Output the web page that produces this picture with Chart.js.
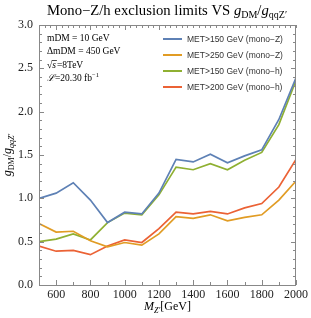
<!DOCTYPE html>
<html>
<head>
<meta charset="utf-8">
<script src="https://cdn.jsdelivr.net/npm/chart.js@4.4.1/dist/chart.umd.min.js"></script>
<style>
  body { margin: 0; background: #fff; }
  canvas { display: block; }
</style>
</head>
<body>
<canvas id="myChart" width="311" height="318"></canvas>
<script>
const masses = [500, 600, 700, 800, 900, 1000, 1100, 1200, 1300, 1400, 1500, 1600, 1700, 1800, 1900, 2000];
const monoZ150 = [1.00, 1.06, 1.18, 0.98, 0.72, 0.84, 0.82, 1.06, 1.45, 1.42, 1.51, 1.41, 1.49, 1.56, 1.91, 2.39];
const monoZ250 = [0.71, 0.61, 0.62, 0.51, 0.44, 0.49, 0.46, 0.59, 0.79, 0.77, 0.81, 0.74, 0.78, 0.81, 0.98, 1.20];
const monoH150 = [0.50, 0.53, 0.59, 0.52, 0.72, 0.83, 0.81, 1.04, 1.36, 1.33, 1.40, 1.33, 1.44, 1.53, 1.85, 2.36];
const monoH200 = [0.45, 0.39, 0.40, 0.35, 0.45, 0.52, 0.49, 0.65, 0.84, 0.82, 0.85, 0.82, 0.89, 0.94, 1.13, 1.45];
const seriesLabels = ['MET>150 GeV (mono\u2212Z)', 'MET>250 GeV (mono\u2212Z)', 'MET>150 GeV (mono\u2212h)', 'MET>200 GeV (mono\u2212h)'];
const seriesColors = ['#5e81b5', '#e19c24', '#8fb032', '#eb6235'];
const xTicks = [600, 800, 1000, 1200, 1400, 1600, 1800, 2000];
const yTicks = [0, 0.5, 1.0, 1.5, 2.0, 2.5, 3.0];
const infoLines = ['mDM = 10 GeV', '\u0394mDM = 450 GeV'];

const serif = '"Liberation Serif", "DejaVu Serif", serif';
const sans = '"Liberation Sans", Arial, sans-serif';

// draws a run of text pieces with different fonts / baseline shifts
function drawRich(ctx, parts, x, y, align) {
  let total = 0;
  parts.forEach(p => { ctx.font = p.f; p.w = ctx.measureText(p.t).width; total += p.w + (p.gap || 0); });
  let cx = align === 'center' ? x - total / 2 : x;
  ctx.textAlign = 'left';
  ctx.textBaseline = 'alphabetic';
  parts.forEach(p => {
    ctx.font = p.f;
    ctx.fillText(p.t, cx, y + (p.dy || 0));
    cx += p.w + (p.gap || 0);
  });
}

const framePlugin = {
  id: 'frame',
  afterDatasetsDraw(chart) {
    const ctx = chart.ctx;
    const a = chart.chartArea;
    const xs = chart.scales.x, ys = chart.scales.y;
    ctx.save();
    ctx.strokeStyle = '#888';
    ctx.lineWidth = 1;
    ctx.strokeRect(a.left + 0.5, a.top + 0.5, a.right - a.left - 1, a.bottom - a.top);
    ctx.beginPath();
    // x ticks every 100, major at 200
    for (let v = 500; v <= 2000; v += 100) {
      const px = Math.round(xs.getPixelForValue(v)) + 0.5;
      const len = v % 200 === 0 ? 5 : 3;
      ctx.moveTo(px, a.bottom); ctx.lineTo(px, a.bottom - len);
    }
    for (let v = 500; v <= 2000; v += 100 / 3) {
      const px = Math.round(xs.getPixelForValue(v)) + 0.5;
      const len = Math.abs(v % 200) < 1 ? 5 : 3;
      ctx.moveTo(px, a.top); ctx.lineTo(px, a.top + len);
    }
    for (let i = 0; i <= 30; i++) {
      const py = Math.round(ys.getPixelForValue(i / 10)) + 0.5;
      const len = i % 5 === 0 ? 5 : 3;
      ctx.moveTo(a.left, py); ctx.lineTo(a.left + len, py);
      ctx.moveTo(a.right, py); ctx.lineTo(a.right - len, py);
    }
    ctx.stroke();

    // legend
    ctx.lineWidth = 2;
    seriesLabels.forEach((lab, i) => {
      const ly = 39 + i * 16;
      ctx.strokeStyle = seriesColors[i];
      ctx.beginPath(); ctx.moveTo(163, ly); ctx.lineTo(182, ly); ctx.stroke();
      ctx.fillStyle = '#333';
      ctx.font = '8.5px ' + sans;
      ctx.textAlign = 'left';
      ctx.textBaseline = 'middle';
      ctx.fillText(lab, 187, ly + 0.5);
    });

    // info text
    ctx.fillStyle = '#000';
    const f9 = '9.5px ' + serif;
    drawRich(ctx, [{ t: infoLines[0], f: f9 }], 47, 41);
    drawRich(ctx, [{ t: infoLines[1], f: f9 }], 47, 54);
    drawRich(ctx, [{ t: '\u221A', f: f9 }, { t: 's', f: 'italic ' + f9, gap: 1 }, { t: '=8TeV', f: f9 }], 47, 68);
    drawRich(ctx, [{ t: '\u2112', f: 'italic ' + f9 }, { t: '=20.30 fb', f: f9 }, { t: '\u22121', f: '6.5px ' + serif, dy: -4 }], 47, 81);
    // overline for sqrt
    ctx.font = f9;
    const rw = ctx.measureText('\u221A').width;
    ctx.font = 'italic ' + f9;
    const sw = ctx.measureText('s').width;
    ctx.lineWidth = 0.7; ctx.strokeStyle = '#000';
    ctx.beginPath(); ctx.moveTo(47 + rw - 0.5, 60.5); ctx.lineTo(47 + rw + sw + 1, 60.5); ctx.stroke();

    // title
    const ft = '14.7px ' + serif, fti = 'italic 14.7px ' + serif, fsub = '10px ' + serif;
    drawRich(ctx, [
      { t: 'Mono\u2212Z/h exclusion limits VS ', f: ft },
      { t: 'g', f: fti }, { t: 'DM', f: fsub, dy: 3 },
      { t: '/', f: ft },
      { t: 'g', f: fti }, { t: 'qqZ\u2032', f: fsub, dy: 3 }
    ], 167, 15, 'center');

    // x title
    const fa = 'italic 12px ' + serif, fan = '12px ' + serif, fas = 'italic 8px ' + serif, fasn = '8px ' + serif;
    drawRich(ctx, [{ t: 'M', f: fa }, { t: 'Z\u2032', f: fas, dy: 3 }, { t: '[GeV]', f: fan }], (a.left + a.right) / 2, 310, 'center');

    // y title
    ctx.translate(11, (a.top + a.bottom) / 2);
    ctx.rotate(-Math.PI / 2);
    drawRich(ctx, [
      { t: 'g', f: fa }, { t: 'DM', f: fasn, dy: 3 },
      { t: '/', f: fan },
      { t: 'g', f: fa }, { t: 'qqZ\u2032', f: fas, dy: 3 }
    ], 0, 0, 'center');
    ctx.restore();
  }
};

const seriesData = [monoZ150, monoZ250, monoH150, monoH200];

new Chart(document.getElementById('myChart'), {
  type: 'line',
  data: {
    labels: masses,
    datasets: seriesData.map((arr, i) => ({
      label: seriesLabels[i],
      data: arr.map((v, j) => ({ x: masses[j], y: v })),
      borderColor: seriesColors[i],
      borderWidth: 1.7,
      pointRadius: 0,
      tension: 0,
      fill: false
    }))
  },
  options: {
    responsive: false,
    animation: false,
    layout: { padding: { top: 25, right: 14, left: 0, bottom: 0 } },
    plugins: { legend: { display: false }, tooltip: { enabled: false } },
    scales: {
      x: {
        type: 'linear', min: 500, max: 2000,
        grid: { display: false, drawTicks: false },
        border: { display: false },
        afterBuildTicks: s => { s.ticks = xTicks.map(v => ({ value: v })); },
        afterFit: s => { s.height = 33; },
        ticks: { padding: 3, maxRotation: 0, color: '#222', font: { family: serif, size: 12 }, callback: v => String(v) }
      },
      y: {
        type: 'linear', min: 0, max: 3,
        grid: { display: false, drawTicks: false },
        border: { display: false },
        afterBuildTicks: s => { s.ticks = yTicks.map(v => ({ value: v })); },
        afterFit: s => { s.width = 39; },
        ticks: { padding: 6, color: '#222', font: { family: serif, size: 12 }, callback: v => v.toFixed(1) }
      }
    }
  },
  plugins: [framePlugin]
});
</script>
</body>
</html>
